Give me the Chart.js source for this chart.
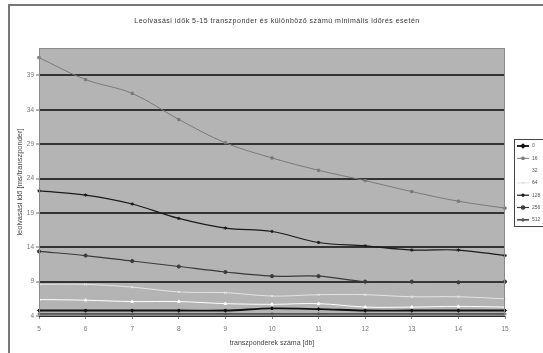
<!DOCTYPE html>
<html>
<head>
<meta charset="utf-8">
<script src="https://cdn.jsdelivr.net/npm/chart.js@4/dist/chart.umd.min.js"></script>
<style>
  html, body { margin: 0; padding: 0; background: #fff; }
  #wrap { width: 543px; height: 353px; }
</style>
</head>
<body>
<div id="wrap"><canvas id="leolvasas" width="543" height="353"></canvas></div>
<script>
// transzponderek száma (x) és a mért leolvasási idők soronként
const transponders = ['5', '6', '7', '8', '9', '10', '11', '12', '13', '14', '15'];
const yTicks = [4, 9, 14, 19, 24, 29, 34, 39];

const series0   = [4.8, 4.8, 4.8, 4.8, 4.8, 5.1, 5.0, 4.8, 4.8, 4.8, 4.8];
const series16  = [41.6, 38.4, 36.4, 32.6, 29.2, 27.0, 25.2, 23.7, 22.1, 20.7, 19.7];
const series32  = [6.4, 6.3, 6.1, 6.1, 5.8, 5.7, 5.8, 5.3, 5.3, 5.4, 5.3];
const series64  = [8.6, 8.6, 8.2, 7.5, 7.4, 6.9, 7.1, 7.1, 6.8, 6.8, 6.5];
const series128 = [22.2, 21.6, 20.3, 18.2, 16.8, 16.3, 14.7, 14.2, 13.6, 13.6, 12.8];
const series256 = [13.4, 12.8, 12.0, 11.2, 10.4, 9.8, 9.8, 9.0, 9.0, 8.9, 9.0];
const series512 = [4.3, 4.3, 4.3, 4.3, 4.3, 4.3, 4.3, 4.3, 4.3, 4.3, 4.3];

const FONT = '"Liberation Sans", Arial, sans-serif';

function line(label, data, color, width, style) {
    return {
        label: label,
        data: data,
        borderColor: color,
        backgroundColor: color,
        borderWidth: width,
        pointStyle: style,
        pointRadius: 1.6,
        pointBorderWidth: 1,
        pointBorderColor: color,
        tension: 0.35
    };
}

// szürke rajzterület kerettel, külső keret, cím és jelmagyarázat
const decor = {
    id: 'decor',
    beforeDraw(chart) {
        const c = chart.ctx, a = chart.chartArea;
        c.save();
        c.fillStyle = '#b4b4b4';
        c.fillRect(a.left, a.top, a.right - a.left, a.bottom - a.top);
        c.restore();
    },
    afterDraw(chart) {
        const c = chart.ctx, a = chart.chartArea;
        c.save();
        c.strokeStyle = '#8a8a8a';
        c.lineWidth = 1;
        c.strokeRect(a.left + 0.5, a.top + 0.5, a.right - a.left - 1, a.bottom - a.top - 1);

        // külső keret
        c.strokeStyle = '#777';
        c.lineWidth = 2;
        c.strokeRect(9, 5, 560, 380);

        // cím
        c.fillStyle = '#333';
        c.font = '7px ' + FONT;
        c.letterSpacing = '0.5px';
        c.textAlign = 'center';
        c.textBaseline = 'middle';
        c.fillText('Leolvasási idők 5-15 transzponder és különböző számú minimális időrés esetén', 277, 21);
        c.letterSpacing = '0px';

        // jelmagyarázat
        const lx = 514, ly = 139, rowH = 12.3;
        c.fillStyle = '#fff';
        c.fillRect(lx, ly, 40, 87);
        c.strokeStyle = '#444';
        c.lineWidth = 1;
        c.strokeRect(lx + 0.5, ly + 0.5, 40, 87);
        c.font = '5px ' + FONT;
        c.textAlign = 'left';
        chart.data.datasets.forEach((ds, i) => {
            const y = ly + 7 + i * rowH;
            c.strokeStyle = ds.borderColor;
            c.lineWidth = ds.borderWidth;
            c.beginPath();
            c.moveTo(lx + 3, y);
            c.lineTo(lx + 15, y);
            c.stroke();
            c.fillStyle = ds.backgroundColor;
            Chart.helpers.drawPoint(c, {
                pointStyle: ds.pointStyle, radius: 1.6, rotation: 0, borderWidth: 1
            }, lx + 9, y);
            c.fillStyle = '#555';
            c.fillText(ds.label, lx + 18, y);
        });
        c.restore();
    }
};

new Chart(document.getElementById('leolvasas'), {
    type: 'line',
    data: {
        labels: transponders,
        datasets: [
            line('0', series0, '#111', 1.8, 'rectRot'),
            line('16', series16, '#7a7a7a', 1, 'rect'),
            line('32', series32, '#ffffff', 1, 'triangle'),
            line('64', series64, '#e4e4e4', 1, 'crossRot'),
            line('128', series128, '#1a1a1a', 1.2, 'star'),
            line('256', series256, '#3a3a3a', 1.2, 'circle'),
            line('512', series512, '#555', 1.8, 'cross')
        ]
    },
    options: {
        responsive: false,
        animation: false,
        layout: { padding: { left: 0, right: 38, top: 48, bottom: 0 } },
        plugins: {
            legend: { display: false },
            title: { display: false },
            tooltip: { enabled: false }
        },
        scales: {
            x: {
                offset: false,
                grid: { drawOnChartArea: false, tickLength: 3, color: '#888' },
                border: { display: false },
                ticks: { color: '#777', font: { size: 6.5, family: FONT }, padding: 6, maxRotation: 0 },
                title: {
                    display: true,
                    text: 'transzponderek száma [db]',
                    color: '#444',
                    font: { size: 7, family: FONT },
                    padding: { top: 0, bottom: 6 }
                },
                afterFit(s) { s.height = 37; }
            },
            y: {
                min: 4,
                max: 43,
                afterBuildTicks(s) { s.ticks = yTicks.map(v => ({ value: v })); },
                grid: { color: '#333', lineWidth: 2, tickLength: 3, tickColor: '#666', tickWidth: 1 },
                border: { display: false },
                ticks: { color: '#777', font: { size: 6.5, family: FONT }, padding: 2 },
                title: {
                    display: true,
                    text: 'leolvasási idő [ms/transzponder]',
                    color: '#444',
                    font: { size: 7.5, family: FONT },
                    padding: { top: 15, bottom: 0 }
                },
                afterFit(s) { s.width = 39; }
            }
        }
    },
    plugins: [decor]
});
</script>
</body>
</html>
